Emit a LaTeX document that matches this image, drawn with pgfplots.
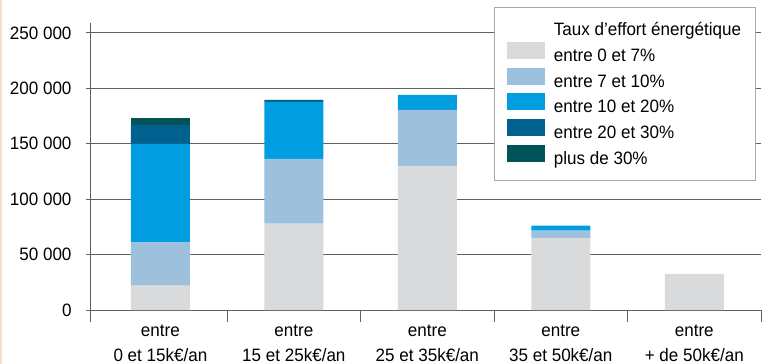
\documentclass[border=0pt]{standalone}
\usepackage{pgfplots}
\pgfplotsset{compat=1.18}
\usepackage{fontspec}
\setmainfont{Liberation Sans}[FakeStretch=0.95]
\definecolor{cA}{HTML}{D9DADC}
\definecolor{cB}{HTML}{9DC0DC}
\definecolor{cC}{HTML}{009EE0}
\definecolor{cD}{HTML}{00618E}
\definecolor{cE}{HTML}{005457}
\definecolor{gridc}{HTML}{5C6168}
\definecolor{legc}{HTML}{A8AAAD}
\definecolor{cream}{HTML}{EFE3C4}
\begin{document}
\begin{tikzpicture}
\begin{axis}[name=ax,
  scale only axis, width=670bp, height=287bp,
  xmin=-0.52, xmax=4.5, ymin=0, ymax=259000,
  ybar stacked, bar width=59bp,
  axis x line*=bottom, axis y line*=left,
  axis line style={draw=gridc, line width=1bp, -},
  ytick={0,50000,100000,150000,200000,250000},
  yticklabels={0,50 000,100 000,150 000,200 000,250 000},
  scaled y ticks=false,
  ymajorgrids, grid style={draw=gridc, line width=1bp},
  major y tick style={draw=gridc, line width=1bp},
  major tick length=5bp, tick align=outside,
  yticklabel style={font=\fontsize{18}{20}\selectfont, xshift=-11bp},
  xtick={0,1,2,3,4},
  major x tick style={draw=none},
  xticklabels={{entre\\0 et 15k€/an},{entre\\15 et 25k€/an},{entre\\25 et 35k€/an},{entre\\35 et 50k€/an},{entre\\+ de 50k€/an}},
  xticklabel style={align=center, font=\fontsize{18}{25}\selectfont, yshift=-6bp},
  minor xtick={-0.52,0.5,1.5,2.5,3.5,4.5},
  minor tick length=12bp,
  minor x tick style={draw=gridc, line width=1bp},
  legend style={at={(0.9927,1.0557)}, anchor=north east, draw=legc, line width=1bp, fill=white,
    font=\fontsize{18}{20}\selectfont, inner xsep=13bp, inner ysep=13.5bp, row sep=3.2bp,
    column sep=7bp,
    nodes={inner sep=1.5bp}, cells={anchor=west}},
  legend image code/.code={\fill[#1,draw=none] (0bp,-3bp) rectangle (38bp,14bp);},
]
\addlegendimage{empty legend}
\addlegendentry{Taux d’effort énergétique}
\addplot[fill=cA, draw=none] coordinates {(0,22000) (1,78000) (2,130000) (3,65000) (4,32500)};
\addlegendentry{entre 0 et 7\%}
\addplot[fill=cB, draw=none] coordinates {(0,39000) (1,58400) (2,50700) (3,6600) (4,0)};
\addlegendentry{entre 7 et 10\%}
\addplot[fill=cC, draw=none] coordinates {(0,89000) (1,51500) (2,13500) (3,4600) (4,0)};
\addlegendentry{entre 10 et 20\%}
\addplot[fill=cD, draw=none] coordinates {(0,17000) (1,1800) (2,0) (3,0) (4,0)};
\addlegendentry{entre 20 et 30\%}
\addplot[fill=cE, draw=none] coordinates {(0,6500) (1,0) (2,0) (3,0) (4,0)};
\addlegendentry{plus de 30\%}
\end{axis}
\pgfresetboundingbox
\path (ax.south west) ++(-91bp,-54bp) coordinate (bl);
\path (ax.north east) ++(18bp,23bp) coordinate (tr);
\useasboundingbox (bl) rectangle (tr);
\fill[cream] (bl) rectangle ([xshift=2bp]bl |- tr);
\end{tikzpicture}
\end{document}
